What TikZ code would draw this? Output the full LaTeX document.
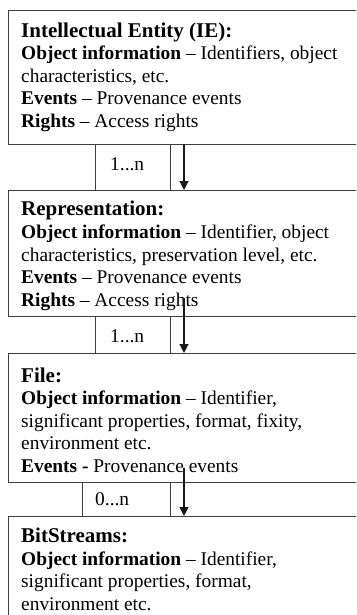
\documentclass[tikz,border=0pt]{standalone}
\usepackage{fontspec}
\setmainfont{Liberation Serif}
\usetikzlibrary{arrows.meta}
\begin{document}
\begin{tikzpicture}[x=1pt,y=-1pt,
  frame/.style={draw=black!75, line width=1.2pt, rectangle, inner sep=0pt, anchor=north west},
  txt/.style={anchor=base west, inner sep=0pt, font=\fontsize{19.4}{22.5}\selectfont},
  ttl/.style={anchor=base west, inner sep=0pt, font=\fontsize{21}{24}\selectfont\bfseries},
  link/.style={draw=black!90, line width=1.2pt, -{Triangle[width=9pt,length=9pt]}}]
\useasboundingbox (0,0) rectangle (356,615);
\fill[white] (0,0) rectangle (356,615);
\clip (0,0) rectangle (356,615);

% entity boxes (open towards the right edge)
\node[frame, minimum width=352, minimum height=134] (ie)  at (8,10)  {};
\node[frame, minimum width=352, minimum height=126] (rep) at (8,190) {};
\node[frame, minimum width=352, minimum height=129] (fil) at (8,353) {};
\node[frame, minimum width=352, minimum height=120] (bit) at (8,516) {};

% cardinality cells
\node[frame, minimum width=74.5, minimum height=46] (m1) at (95,144) {};
\node[frame, minimum width=74.5, minimum height=37] (m2) at (95,316) {};
\node[frame, minimum width=87.5, minimum height=34] (m3) at (82,482) {};
\node[txt] (m1t) at (110,170) {1...n};
\node[txt] (m2t) at (110,342) {1...n};
\node[txt] (m3t) at (95,505) {0...n};

% Intellectual Entity
\node[ttl] (ie0) at (21,37.5) {Intellectual Entity (IE):};
\node[txt] (ie1) at (21,60) {\textbf{Object information} – Identifiers, object};
\node[txt] (ie2) at (21,82.5) {characteristics, etc.};
\node[txt] (ie3) at (21,105) {\textbf{Events} – Provenance events};
\node[txt] (ie4) at (21,128) {\textbf{Rights} – Access rights};

% Representation
\node[ttl] (rep0) at (21,215) {Representation:};
\node[txt] (rep1) at (21,238) {\textbf{Object information} – Identifier, object};
\node[txt] (rep2) at (21,261) {characteristics, preservation level, etc.};
\node[txt] (rep3) at (21,283) {\textbf{Events} – Provenance events};
\node[txt] (rep4) at (21,306) {\textbf{Rights} – Access rights};

% File
\node[ttl] (fil0) at (21,382) {File:};
\node[txt] (fil1) at (21,404) {\textbf{Object information} – Identifier,};
\node[txt] (fil2) at (21,427) {significant properties, format, fixity,};
\node[txt] (fil3) at (21,449) {environment etc.};
\node[txt] (fil4) at (21,472) {\textbf{Events -} Provenance events};

% BitStreams
\node[ttl] (bit0) at (21,542) {BitStreams:};
\node[txt] (bit1) at (21,565) {\textbf{Object information} – Identifier,};
\node[txt] (bit2) at (21,587) {significant properties, format,};
\node[txt] (bit3) at (21,610) {environment etc.};

% containment arrows
\coordinate (a1) at (184,144);
\coordinate (a2) at (184,298);
\coordinate (a3) at (184,468);
\draw[link] (a1) -- (a1 |- rep.north);
\draw[link] (a2) -- (a2 |- fil.north);
\draw[link] (a3) -- (a3 |- bit.north);
\end{tikzpicture}
\end{document}
